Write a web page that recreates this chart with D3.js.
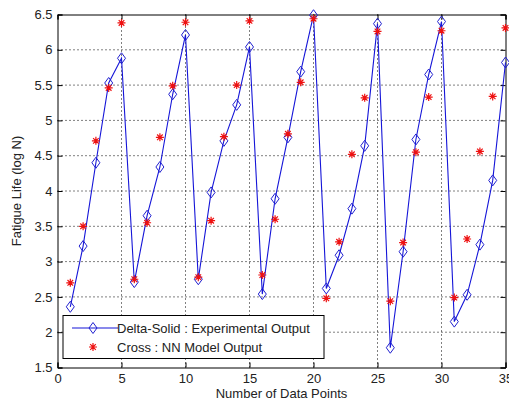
<!DOCTYPE html>
<html>
<head>
<meta charset="utf-8">
<script src="https://cdn.jsdelivr.net/npm/d3@7"></script>
<style>
  body { margin: 0; background: #fff; }
  text { font-family: "Liberation Sans", Arial, sans-serif; fill: #222; }
</style>
</head>
<body>
<div id="chart"></div>
<script>
// ── Data ──
const points = d3.range(1, 36);
const experimental = [
  2.36, 3.22, 4.40, 5.53, 5.88, 2.71, 3.65, 4.34, 5.37, 6.21,
  2.75, 3.98, 4.71, 5.22, 6.04, 2.54, 3.89, 4.76, 5.69, 6.49,
  2.62, 3.09, 3.75, 4.64, 6.37, 1.78, 3.14, 4.73, 5.65, 6.40,
  2.15, 2.53, 3.24, 4.15, 5.82
];
const nnModel = [
  2.70, 3.50, 4.71, 5.46, 6.38, 2.75, 3.55, 4.76, 5.49, 6.39,
  2.78, 3.58, 4.77, 5.50, 6.41, 2.81, 3.60, 4.81, 5.54, 6.44,
  2.48, 3.28, 4.52, 5.32, 6.26, 2.44, 3.27, 4.55, 5.33, 6.27,
  2.49, 3.32, 4.56, 5.34, 6.31
];
const xTicks = [0, 5, 10, 15, 20, 25, 30, 35];
const yTicks = [1.5, 2, 2.5, 3, 3.5, 4, 4.5, 5, 5.5, 6, 6.5];
const legendLabels = ['Delta-Solid : Experimental Output', 'Cross : NN Model Output'];

const W = 509, H = 405;
const m = { top: 14.5, right: 3.5, bottom: 37.5, left: 57.5 };
const width = W - m.left - m.right;
const height = H - m.top - m.bottom;

const svg = d3.select('#chart').append('svg')
  .attr('width', W).attr('height', H);
const g = svg.append('g').attr('transform', `translate(${m.left},${m.top})`);

const x = d3.scaleLinear().domain([0, 35]).range([0, width]);
const y = d3.scaleLinear().domain([1.5, 6.5]).range([height, 0]);

// Grid (dotted)
g.append('g').selectAll('line').data(xTicks.slice(1, -1)).enter().append('line')
  .attr('x1', d => x(d)).attr('x2', d => x(d))
  .attr('y1', 0).attr('y2', height)
  .attr('stroke', '#000').attr('stroke-dasharray', '1,3');
g.append('g').selectAll('line').data(yTicks.slice(1, -1)).enter().append('line')
  .attr('y1', d => y(d)).attr('y2', d => y(d))
  .attr('x1', 0).attr('x2', width)
  .attr('stroke', '#000').attr('stroke-dasharray', '1,3');

// Axes with inward ticks
const fmt = d => String(d);
g.append('g').attr('transform', `translate(0,${height})`)
  .call(d3.axisBottom(x).tickValues(xTicks).tickSize(-5).tickPadding(6).tickFormat(fmt));
g.append('g')
  .call(d3.axisTop(x).tickValues(xTicks).tickSize(-5).tickFormat(''));
g.append('g')
  .call(d3.axisLeft(y).tickValues(yTicks).tickSize(-5).tickPadding(5).tickFormat(fmt));
g.append('g').attr('transform', `translate(${width},0)`)
  .call(d3.axisRight(y).tickValues(yTicks).tickSize(-5).tickFormat(''));
g.selectAll('.domain').attr('stroke', '#000');
g.selectAll('.tick line').attr('stroke', '#000');
g.selectAll('.tick text').style('font-size', '13px').attr('fill', '#222');

// Experimental line
const expData = points.map((p, i) => ({ p, v: experimental[i] }));
const nnData = points.map((p, i) => ({ p, v: nnModel[i] }));

g.append('path').datum(expData)
  .attr('fill', 'none').attr('stroke', '#1515d8').attr('stroke-width', 1.1)
  .attr('d', d3.line().x(d => x(d.p)).y(d => y(d.v)));

const diamond = 'M0,-5.5L4,0L0,5.5L-4,0Z';
const star = 'M-4,0H4M0,-4V4M-2.8,-2.8L2.8,2.8M-2.8,2.8L2.8,-2.8';

g.selectAll('.dia').data(expData).enter().append('path')
  .attr('class', 'dia')
  .attr('transform', d => `translate(${x(d.p)},${y(d.v)})`)
  .attr('d', diamond)
  .attr('fill', 'none').attr('stroke', '#2020d0').attr('stroke-width', 1);

g.selectAll('.star').data(nnData).enter().append('path')
  .attr('class', 'star')
  .attr('transform', d => `translate(${x(d.p)},${y(d.v)})`)
  .attr('d', star)
  .attr('stroke', '#ee1111').attr('stroke-width', 1.2);

// Legend
const lg = g.append('g').attr('transform', `translate(${63 - m.left},${315.5 - m.top})`);
lg.append('rect').attr('width', 261).attr('height', 43)
  .attr('fill', '#fff').attr('stroke', '#000');
lg.append('line').attr('x1', 9).attr('x2', 55).attr('y1', 12.5).attr('y2', 12.5)
  .attr('stroke', '#1515d8').attr('stroke-width', 1.1);
lg.append('path').attr('transform', 'translate(30,12.5)').attr('d', diamond)
  .attr('fill', 'none').attr('stroke', '#2020d0');
lg.append('path').attr('transform', 'translate(30,31.5)').attr('d', star)
  .attr('stroke', '#ee1111').attr('stroke-width', 1.2);
lg.selectAll('.lt').data(legendLabels).enter().append('text')
  .attr('x', 54).attr('y', (d, i) => 17 + i * 19.5)
  .style('font-size', '13px')
  .text(d => d);

// Axis labels
svg.append('text')
  .attr('x', m.left + width / 2).attr('y', 398)
  .attr('text-anchor', 'middle').style('font-size', '13px')
  .text('Number of Data Points');
svg.append('text')
  .attr('transform', `translate(21,${m.top + height / 2}) rotate(-90)`)
  .attr('text-anchor', 'middle').style('font-size', '13px')
  .text('Fatigue Life (log N)');
</script>
</body>
</html>
